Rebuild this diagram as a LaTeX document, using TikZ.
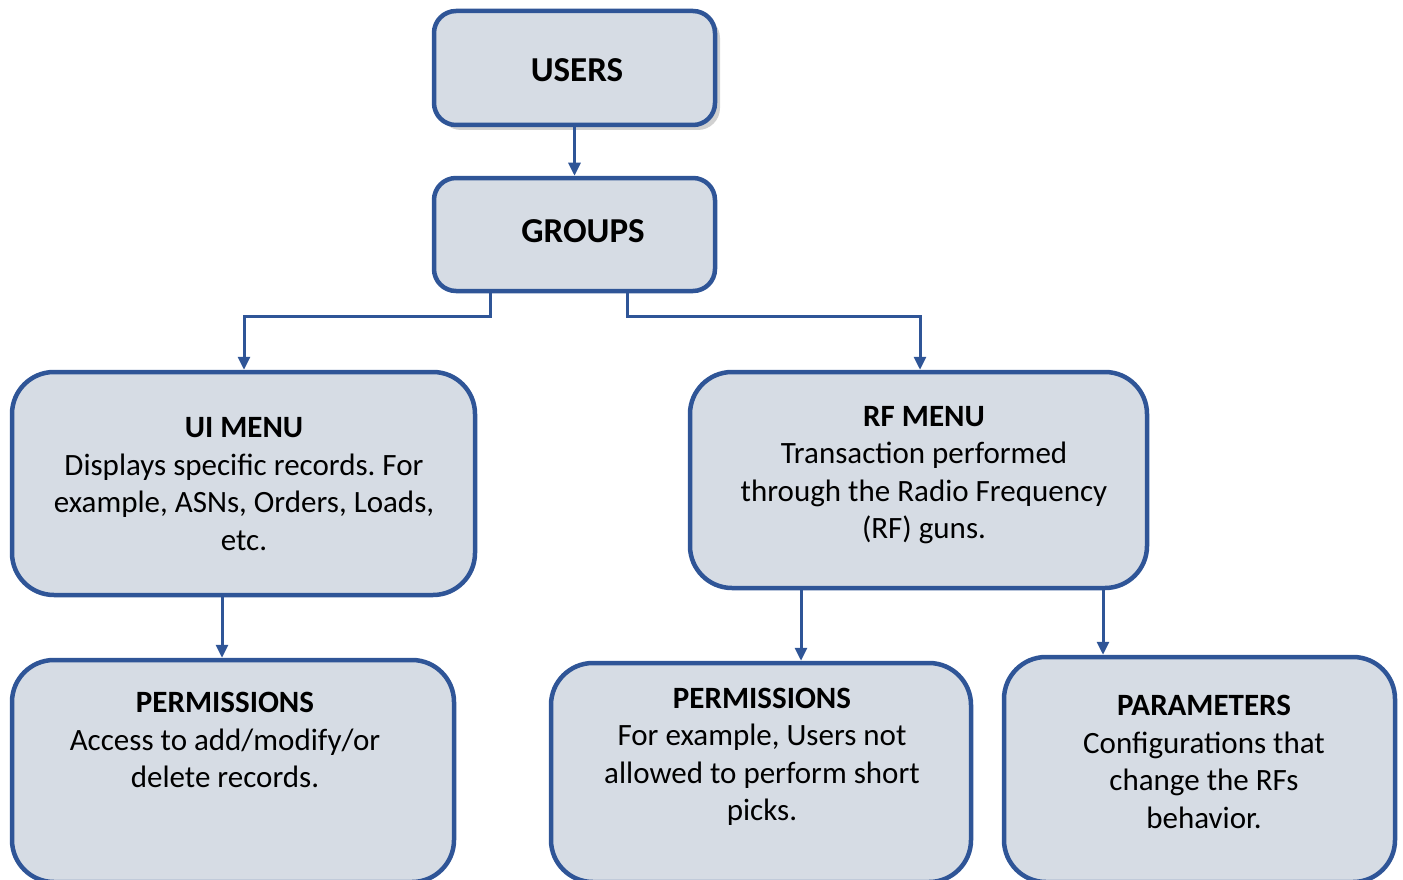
\documentclass[tikz,border=0pt]{standalone}
\usepackage{fontspec}
\setmainfont{Carlito}
\frenchspacing
\usetikzlibrary{arrows.meta,shadows}
\definecolor{edge}{HTML}{2F5597}
\definecolor{boxfill}{HTML}{D6DCE4}
\begin{document}
\begin{tikzpicture}[x=1pt,y=-1pt,
  box/.style={draw=edge, fill=boxfill, line width=4.5pt, inner sep=0pt},
  smallbox/.style={box, rounded corners=22pt},
  bigbox/.style={box, rounded corners=42pt},
  txt/.style={align=center, inner sep=0pt, font=\fontsize{31}{37.5}\selectfont\frenchspacing},
  head/.style={inner sep=0pt, font=\fontsize{35}{40}\selectfont\bfseries},
  conn/.style={draw=edge, line width=3pt, -{Triangle[length=13pt,width=12pt]}},
]
\useasboundingbox (0,0) rectangle (1403,880);
% boxes
\node[smallbox, minimum width=281pt, minimum height=114pt,
  drop shadow={shadow xshift=5pt, shadow yshift=-5pt, fill=black!40, opacity=0.45}] (users) at (574.5,68) {};
\node[smallbox, minimum width=281pt, minimum height=113pt] (groups) at (574.5,234.5) {};
\node[bigbox, minimum width=463pt, minimum height=223pt] (ui) at (243.5,483.5) {};
\node[bigbox, minimum width=457pt, minimum height=216pt] (rf) at (918.5,480) {};
\node[bigbox, minimum width=442pt, minimum height=222pt] (perml) at (233,771) {};
\node[bigbox, minimum width=420pt, minimum height=219pt] (permm) at (761,772.5) {};
\node[bigbox, minimum width=391pt, minimum height=225pt] (param) at (1199.5,769.5) {};
% texts
\node[head] (usersT) at (577,70) {USERS};
\node[head] (groupsT) at (583,231) {GROUPS};
\node[txt] (uiT) at (244,484) {\textbf{UI MENU}\\Displays specific records. For\\example, ASNs, Orders, Loads,\\etc.};
\node[txt] (rfT) at (924,475) {\textbf{RF MENU}\\Transaction performed\\through the Radio Frequency\\(RF) guns.};
\node[txt] (permlT) at (225,740) {\textbf{PERMISSIONS}\\Access to add/modify/or\\delete records.};
\node[txt] (permmT) at (762,757) {\textbf{PERMISSIONS}\\For example, Users not\\allowed to perform short\\picks.};
\node[txt] (paramT) at (1204,762) {\textbf{PARAMETERS}\\Configurations that\\change the RFs\\behavior.};
% connectors
\draw[conn] (users.south) -- (groups.north);
\draw[conn] (groups.south -| 490,0) |- (244,316) -- (ui.north -| 244,0);
\draw[conn] (groups.south -| 627,0) |- (920,316) -- (rf.north -| 920,0);
\draw[conn] (ui.south -| 222,0) -- (perml.north -| 222,0);
\draw[conn] (rf.south -| 801,0) -- (permm.north -| 801,0);
\draw[conn] (rf.south -| 1103,0) -- (param.north -| 1103,0);
\end{tikzpicture}
\end{document}
